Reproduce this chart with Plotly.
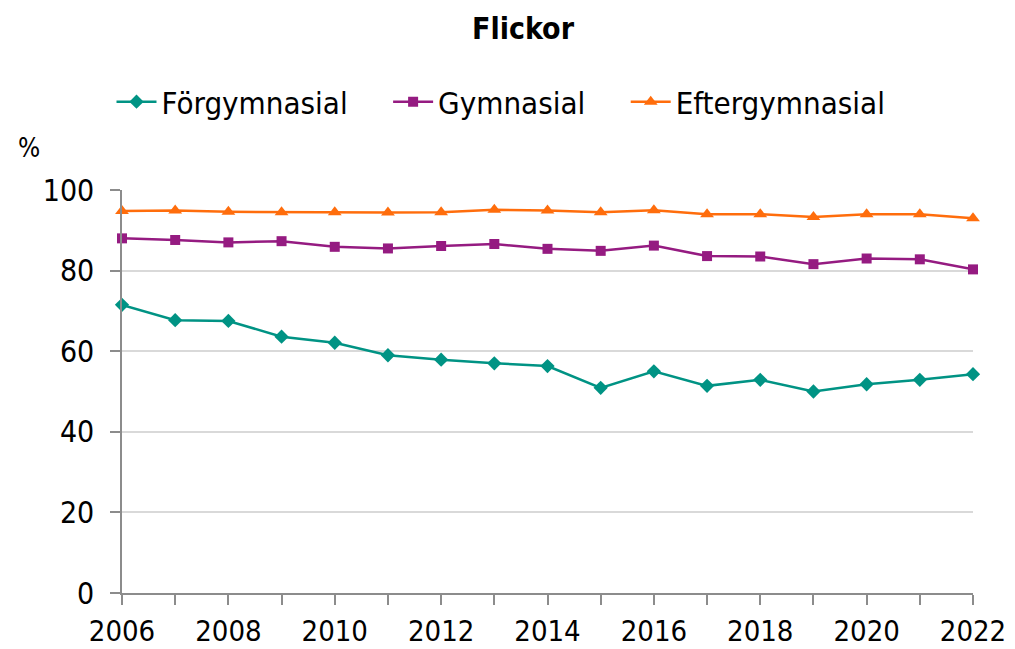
import plotly.graph_objects as go

years = list(range(2006, 2023))
forgymnasial = [71.5, 67.7, 67.5, 63.6, 62.1, 59.0, 57.9, 57.0, 56.3, 50.9, 55.0, 51.4, 52.9, 50.0, 51.8, 52.9, 54.3]
gymnasial = [88.0, 87.6, 87.0, 87.3, 85.9, 85.5, 86.1, 86.6, 85.4, 84.9, 86.2, 83.6, 83.5, 81.6, 83.0, 82.8, 80.3]
eftergymnasial = [94.8, 94.9, 94.6, 94.5, 94.5, 94.4, 94.5, 95.1, 94.9, 94.5, 95.0, 94.0, 94.0, 93.3, 94.0, 94.0, 93.0]

PAD = "\u00a0" * 4
series = [
    ("Förgymnasial" + PAD, forgymnasial, "#009384", "diamond", 11),
    ("Gymnasial" + PAD, gymnasial, "#951b81", "square", 10),
    ("Eftergymnasial", eftergymnasial, "#ff6d0c", "triangle-up", 12),
]

FONT = "DejaVu Sans Condensed, DejaVu Sans, sans-serif"

fig = go.Figure()
for name, vals, col, sym, sz in series:
    fig.add_trace(go.Scatter(
        x=years, y=vals, name=name, mode="lines+markers",
        line=dict(color=col, width=2.5),
        marker=dict(symbol=sym, size=sz, color=col),
        cliponaxis=False,
    ))

W, H = 1007, 641
fig.update_layout(
    width=W, height=H,
    margin=dict(l=114, r=42, t=182, b=56, autoexpand=False),
    paper_bgcolor="white", plot_bgcolor="white",
    font=dict(family=FONT, color="black", size=26),
    title=dict(text="<b>Flickor</b>", x=515 / W, xanchor="center", xref="container",
               y=1 - 20 / H, yanchor="middle", yref="container",
               font=dict(family=FONT, size=30, color="black")),
    legend=dict(orientation="h", x=(501 - 122) / 851, xanchor="center", y=(593 - 102) / 403, yanchor="middle",
                font=dict(family=FONT, size=31), itemwidth=40, tracegroupgap=0),
    showlegend=True,
    xaxis=dict(range=[2006, 2022], tickmode="array", tickvals=list(range(2006, 2023)),
               ticktext=[str(y) if y % 2 == 0 else "" for y in years],
               showgrid=False, showline=True, linecolor="#8c8c8c", linewidth=1.5,
               ticks="outside", ticklen=10, tickcolor="#8c8c8c", tickwidth=1.5,
               tickfont=dict(size=29), zeroline=False, automargin=False, ticklabelstandoff=1),
    yaxis=dict(range=[0, 100], tickvals=[0, 20, 40, 60, 80, 100],
               showgrid=True, gridcolor="#d9d9d9", gridwidth=1.5,
               showline=True, linecolor="#8c8c8c", linewidth=1.5,
               ticks="outside", ticklen=10, tickcolor="#8c8c8c", tickwidth=1.5,
               tickfont=dict(size=30), zeroline=False, ticklabelstandoff=10, automargin=False),
    annotations=[dict(text="%", xref="paper", yref="paper", x=(16 - 122) / 851, y=(593 - 148) / 403,
                      xanchor="left", yanchor="middle", showarrow=False,
                      font=dict(family=FONT, size=26))],
)

fig.write_html("out.html")
